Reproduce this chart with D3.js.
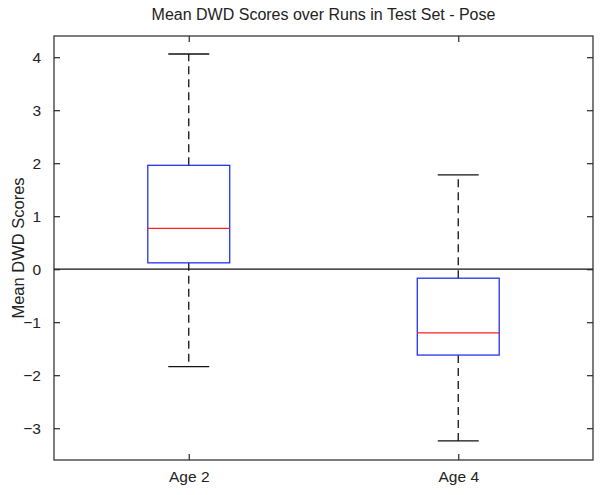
<!DOCTYPE html>
<html>
<head>
<meta charset="utf-8">
<script src="https://cdn.jsdelivr.net/npm/d3@7"></script>
<style>
  html, body { margin: 0; padding: 0; background: #fff; }
  svg { display: block; }
  text { font-family: "Liberation Sans", Arial, sans-serif; fill: #222; }
</style>
</head>
<body>
<script>
// ---- Data ----
const categories = ["Age 2", "Age 4"];
const whiskerLow  = [-1.84, -3.24];
const q1Values    = [0.12, -1.62];
const medians     = [0.77, -1.20];
const q3Values    = [1.96, -0.17];
const whiskerHigh = [4.06, 1.78];
const yTicks = [-3, -2, -1, 0, 1, 2, 3, 4];
const title = "Mean DWD Scores over Runs in Test Set - Pose";
const yLabel = "Mean DWD Scores";

const W = 605, H = 495;
const m = { left: 54, right: 12, top: 36, bottom: 35 };
const x0 = m.left, x1 = W - m.right, y0 = m.top, y1 = H - m.bottom;

const svg = d3.select("body").append("svg").attr("width", W).attr("height", H);

const x = d3.scaleLinear().domain([0.5, categories.length + 0.5]).range([x0, x1]);
const y = d3.scaleLinear().domain([-3.6, 4.4]).range([y1, y0]);

const axisColor = "#262626";
const tickLen = 6;

// Zero reference line
svg.append("line")
  .attr("x1", x0).attr("x2", x1)
  .attr("y1", y(0)).attr("y2", y(0))
  .attr("stroke", "#111").attr("stroke-width", 1.3);

// Boxes
const boxHalf = (x(2) - x(1)) * 0.152;
const capHalf = boxHalf / 2;
const data = categories.map((c, i) => ({
  c, pos: i + 1, lo: whiskerLow[i], q1: q1Values[i], med: medians[i], q3: q3Values[i], hi: whiskerHigh[i]
}));

const g = svg.append("g").selectAll("g").data(data).join("g");

// dashed whiskers
g.append("line")
  .attr("x1", d => x(d.pos)).attr("x2", d => x(d.pos))
  .attr("y1", d => y(d.q3)).attr("y2", d => y(d.hi))
  .attr("stroke", "#111").attr("stroke-width", 1.3).attr("stroke-dasharray", "8,5");
g.append("line")
  .attr("x1", d => x(d.pos)).attr("x2", d => x(d.pos))
  .attr("y1", d => y(d.q1)).attr("y2", d => y(d.lo))
  .attr("stroke", "#111").attr("stroke-width", 1.3).attr("stroke-dasharray", "8,5");
// caps
g.append("line")
  .attr("x1", d => x(d.pos) - capHalf).attr("x2", d => x(d.pos) + capHalf)
  .attr("y1", d => y(d.hi)).attr("y2", d => y(d.hi))
  .attr("stroke", "#111").attr("stroke-width", 1.3);
g.append("line")
  .attr("x1", d => x(d.pos) - capHalf).attr("x2", d => x(d.pos) + capHalf)
  .attr("y1", d => y(d.lo)).attr("y2", d => y(d.lo))
  .attr("stroke", "#111").attr("stroke-width", 1.3);
// box
g.append("rect")
  .attr("x", d => x(d.pos) - boxHalf)
  .attr("width", boxHalf * 2)
  .attr("y", d => y(d.q3))
  .attr("height", d => y(d.q1) - y(d.q3))
  .attr("fill", "none").attr("stroke", "#2233ee").attr("stroke-width", 1.3);
// median
g.append("line")
  .attr("x1", d => x(d.pos) - boxHalf).attr("x2", d => x(d.pos) + boxHalf)
  .attr("y1", d => y(d.med)).attr("y2", d => y(d.med))
  .attr("stroke", "#ff2020").attr("stroke-width", 1.3);

// Axes (MATLAB style: box with inward ticks on all sides)
svg.append("rect")
  .attr("x", x0).attr("y", y0).attr("width", x1 - x0).attr("height", y1 - y0)
  .attr("fill", "none").attr("stroke", axisColor).attr("stroke-width", 1.2);

const leftAxis = svg.append("g").attr("transform", `translate(${x0},0)`)
  .call(d3.axisLeft(y).tickValues(yTicks).tickSize(-tickLen).tickPadding(tickLen + 7).tickFormat(d3.format("d")));
const rightAxis = svg.append("g").attr("transform", `translate(${x1},0)`)
  .call(d3.axisRight(y).tickValues(yTicks).tickSize(-tickLen).tickFormat(""));
const bottomAxis = svg.append("g").attr("transform", `translate(0,${y1})`)
  .call(d3.axisBottom(x).tickValues(data.map(d => d.pos)).tickSize(-tickLen).tickPadding(tickLen + 5)
    .tickFormat((d, i) => categories[i]));
const topAxis = svg.append("g").attr("transform", `translate(0,${y0})`)
  .call(d3.axisTop(x).tickValues(data.map(d => d.pos)).tickSize(-tickLen).tickFormat(""));

[leftAxis, rightAxis, bottomAxis, topAxis].forEach(a => {
  a.select(".domain").remove();
  a.selectAll(".tick line").attr("stroke", axisColor).attr("stroke-width", 1.2);
  a.selectAll(".tick text").attr("font-size", 15.5).attr("fill", "#222")
    .attr("font-family", "'Liberation Sans', Arial, sans-serif");
});

// Title
svg.append("text")
  .attr("x", (x0 + x1) / 2).attr("y", 20)
  .attr("text-anchor", "middle").attr("font-size", 16)
  .text(title);

// Y label
svg.append("text")
  .attr("transform", `translate(24,${(y0 + y1) / 2}) rotate(-90)`)
  .attr("text-anchor", "middle").attr("font-size", 16.5)
  .text(yLabel);
</script>
</body>
</html>
